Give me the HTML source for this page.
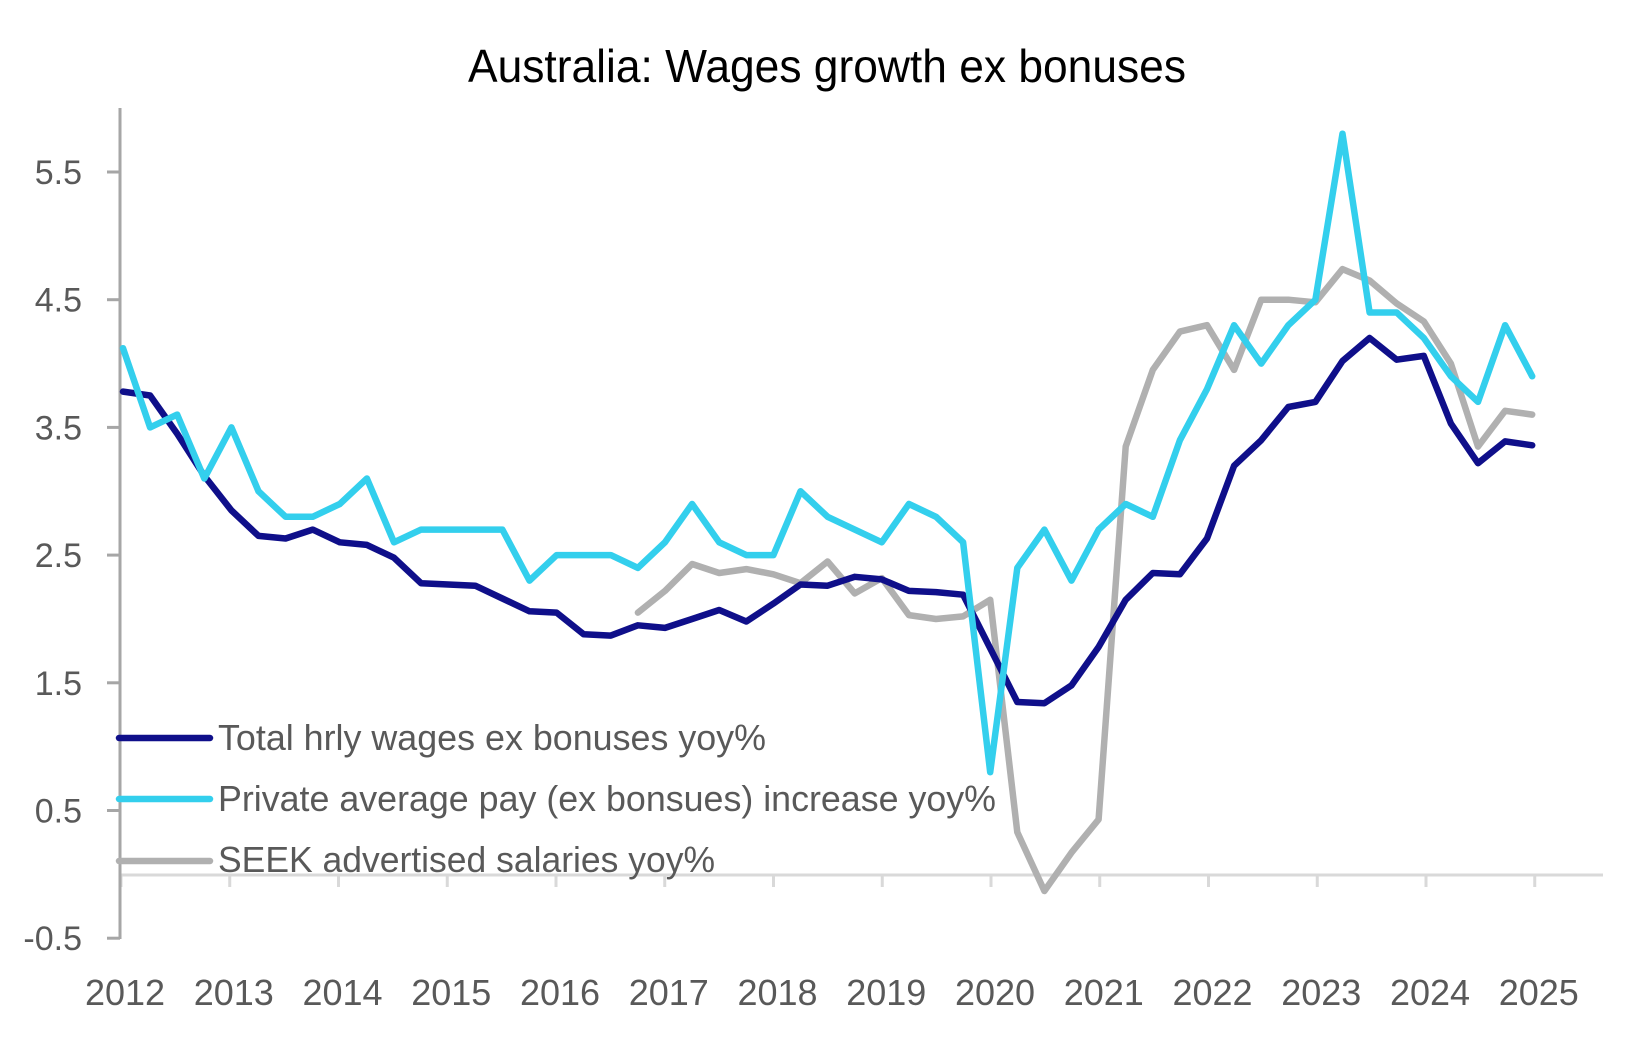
<!DOCTYPE html>
<html><head><meta charset="utf-8"><style>
html,body{margin:0;padding:0;background:#fff;}
svg{display:block;}
text{font-family:"Liberation Sans",sans-serif;}
</style></head><body>
<svg id="c" width="1647" height="1040" viewBox="0 0 1647 1040" xmlns="http://www.w3.org/2000/svg">
<rect width="1647" height="1040" fill="#fff"/>
<text x="827" y="82" font-size="46" fill="#000" text-anchor="middle" textLength="718" lengthAdjust="spacingAndGlyphs">Australia: Wages growth ex bonuses</text>
<g id="axes"></g>
<g id="series" fill="none" stroke-linejoin="round" stroke-linecap="round"></g>
<g font-size="36" fill="#595959">
<line x1="119" y1="738" x2="210" y2="738" stroke="#0f0f8a" stroke-width="6.5" stroke-linecap="round"/>
<line x1="119" y1="799" x2="210" y2="799" stroke="#33cfed" stroke-width="6.5" stroke-linecap="round"/>
<line x1="119" y1="861" x2="210" y2="861" stroke="#b0b0b0" stroke-width="6.5" stroke-linecap="round"/>
<text x="218" y="750" textLength="548" lengthAdjust="spacingAndGlyphs">Total hrly wages ex bonuses yoy%</text>
<text x="218" y="811" textLength="778" lengthAdjust="spacingAndGlyphs">Private average pay (ex bonsues) increase yoy%</text>
<text x="218" y="872" textLength="497" lengthAdjust="spacingAndGlyphs">SEEK advertised salaries yoy%</text>
</g>
</svg>
<script>
var NS="http://www.w3.org/2000/svg";
function el(p,t,a,txt){var e=document.createElementNS(NS,t);for(var k in a)e.setAttribute(k,a[k]);if(txt!=null)e.textContent=txt;p.appendChild(e);return e;}
function X(i){return 123+i*27.1;}
function Y(v){return 874.35-127.7*v;}
var ax=document.getElementById('axes');
el(ax,'line',{x1:120,y1:875,x2:1603,y2:875,stroke:'#d9d9d9','stroke-width':3});
for(var k=0;k<=13;k++){var tx=121+k*108.75;el(ax,'line',{x1:tx,y1:875,x2:tx,y2:887,stroke:'#d9d9d9','stroke-width':3});
 el(ax,'text',{x:tx+4,y:1005,'font-size':36,fill:'#595959','text-anchor':'middle'},String(2012+k));}
el(ax,'line',{x1:120,y1:108,x2:120,y2:939,stroke:'#a6a6a6','stroke-width':3});
var vals=[5.5,4.5,3.5,2.5,1.5,0.5,-0.5];
vals.forEach(function(v){var y=Y(v);el(ax,'line',{x1:107,y1:y,x2:120,y2:y,stroke:'#a6a6a6','stroke-width':3});
 el(ax,'text',{x:82,y:y+12,'font-size':34,fill:'#595959','text-anchor':'end'},v.toFixed(1));});
var navy=[3.78,3.75,3.45,3.12,2.85,2.65,2.63,2.70,2.60,2.58,2.48,2.28,2.27,2.26,2.16,2.06,2.05,1.88,1.87,1.95,1.93,2.0,2.07,1.98,2.12,2.27,2.26,2.33,2.31,2.22,2.21,2.19,1.77,1.35,1.34,1.48,1.78,2.15,2.36,2.35,2.63,3.2,3.4,3.66,3.7,4.02,4.2,4.03,4.06,3.53,3.22,3.39,3.36];
var cyan=[4.12,3.5,3.6,3.1,3.5,3.0,2.8,2.8,2.9,3.1,2.6,2.7,2.7,2.7,2.7,2.3,2.5,2.5,2.5,2.4,2.6,2.9,2.6,2.5,2.5,3.0,2.8,2.7,2.6,2.9,2.8,2.6,0.8,2.4,2.7,2.3,2.7,2.9,2.8,3.4,3.8,4.3,4.0,4.3,4.5,5.8,4.4,4.4,4.2,3.9,3.7,4.3,3.9];
var gray=[2.05,2.22,2.43,2.36,2.39,2.35,2.28,2.45,2.2,2.32,2.03,2.0,2.02,2.15,0.33,-0.13,0.17,0.43,3.35,3.95,4.25,4.3,3.95,4.5,4.5,4.48,4.74,4.65,4.47,4.33,4.0,3.35,3.63,3.6];
var sg=document.getElementById('series');
function pl(d,off,col){var p=d.map(function(v,i){return X(i+off).toFixed(1)+','+Y(v).toFixed(1);}).join(' ');
 el(sg,'polyline',{points:p,stroke:col,'stroke-width':6.5});}
pl(gray,19,'#b0b0b0');
pl(navy,0,'#0f0f8a');
pl(cyan,0,'#33cfed');
</script>
</body></html>
